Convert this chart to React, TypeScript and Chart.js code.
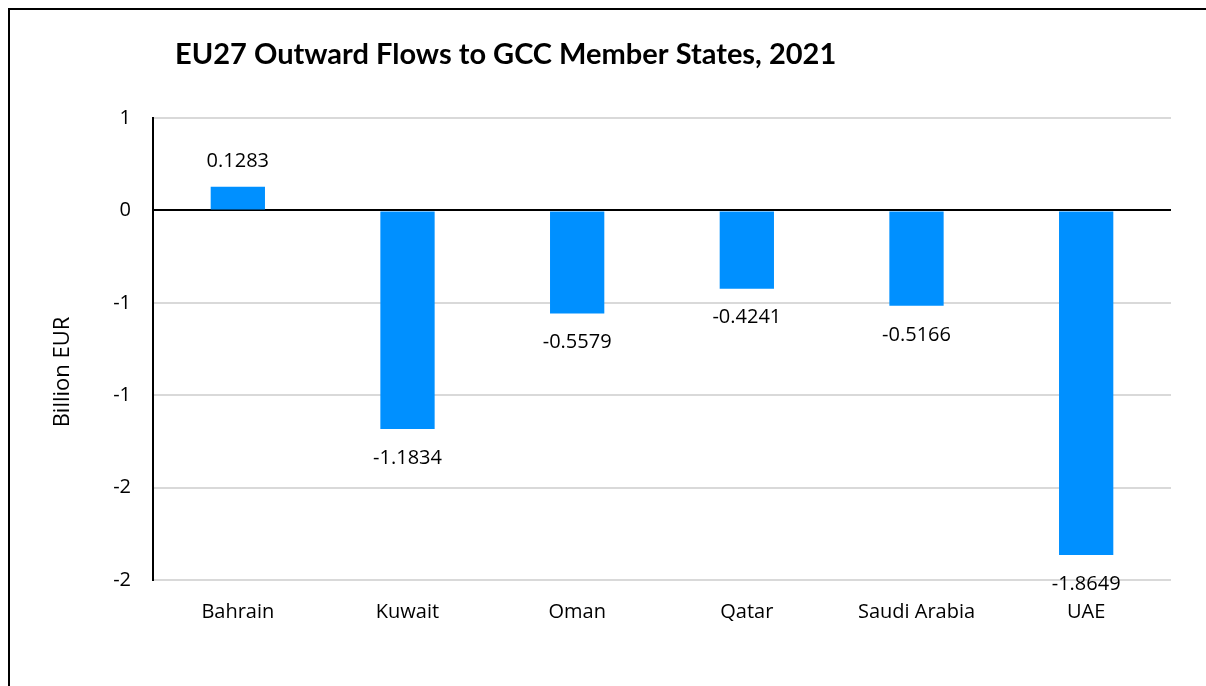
import React, { useEffect, useRef } from "react";
import { Chart, registerables } from "chart.js";

Chart.register(...registerables);

const categories = ["Bahrain", "Kuwait", "Oman", "Qatar", "Saudi Arabia", "UAE"];
const values = [0.1283, -1.1834, -0.5579, -0.4241, -0.5166, -1.8649];
const valueLabels = ["0.1283", "-1.1834", "-0.5579", "-0.4241", "-0.5166", "-1.8649"];
const chartTitle = "EU27 Outward Flows to GCC Member States, 2021";
const yAxisTitle = "Billion EUR";
const yMin = -2;
const yMax = 0.5;
const yStep = 0.5;

const FONT = "'Open Sans', Lato, sans-serif";
const TITLE_FONT = "Lato, 'Open Sans', sans-serif";
const BAR_COLOR = "#0090FF";

const overlayPlugin = {
  id: "overlayText",
  afterDatasetsDraw(chart: any) {
    const { ctx, chartArea } = chart;
    const meta = chart.getDatasetMeta(0);
    ctx.save();
    ctx.fillStyle = "#000";
    ctx.font = `20px ${FONT}`;
    ctx.textAlign = "center";
    ctx.textBaseline = "middle";
    meta.data.forEach((bar: any, i: number) => {
      const v = values[i];
      const y = v >= 0 ? bar.y - 25 : bar.y + 29;
      ctx.fillText(valueLabels[i], bar.x, y);
    });
    // chart title
    ctx.font = `bold 29px ${TITLE_FONT}`;
    ctx.textAlign = "left";
    ctx.fillText(chartTitle, chartArea.left + 22, chartArea.top - 63);
    // y axis title
    ctx.font = `22px ${FONT}`;
    ctx.translate(chartArea.left - 90, chartArea.top + 254);
    ctx.rotate(-Math.PI / 2);
    ctx.textAlign = "center";
    ctx.fillText(yAxisTitle, 0, 0);
    ctx.restore();
  },
};

export default function App() {
  const canvasRef = useRef<HTMLCanvasElement | null>(null);

  useEffect(() => {
    if (!canvasRef.current) return;
    const chart = new Chart(canvasRef.current, {
      type: "bar",
      data: {
        labels: categories,
        datasets: [
          {
            data: values,
            backgroundColor: BAR_COLOR,
            borderWidth: 0,
            categoryPercentage: 1,
            barPercentage: 0.32,
          },
        ],
      },
      options: {
        animation: false,
        responsive: false,
        maintainAspectRatio: false,
        layout: { padding: { top: 108, right: 35, bottom: 0, left: 0 } },
        plugins: {
          legend: { display: false },
          title: { display: false },
          tooltip: { enabled: false },
        },
        scales: {
          x: {
            grid: { display: false, drawTicks: false },
            border: { display: false },
            ticks: {
              color: "#000",
              font: { family: FONT, size: 20 },
              padding: 20,
              maxRotation: 0,
            },
            afterFit(scale: any) {
              scale.height = 106;
            },
          },
          y: {
            min: yMin,
            max: yMax,
            grid: {
              color: (c: any) => (c.tick && c.tick.value === 0 ? "#000" : "#d9d9d9"),
              lineWidth: 2,
              drawTicks: false,
            },
            border: { display: true, color: "#000", width: 2 },
            ticks: {
              stepSize: yStep,
              color: "#000",
              font: { family: FONT, size: 20 },
              padding: 22,
              callback: (v: any) => {
                const n = Number(v);
                const r = Math.sign(n) * Math.round(Math.abs(n));
                return r === 0 ? "0" : String(r);
              },
            },
            afterFit(scale: any) {
              scale.width = 143;
            },
          },
        },
      },
      plugins: [overlayPlugin],
    });
    return () => chart.destroy();
  }, []);

  return (
    <div
      style={{
        position: "fixed",
        left: 8,
        top: 8,
        right: 0,
        bottom: 0,
        overflow: "hidden",
        background: "#fff",
      }}
    >
      <div
        style={{
          width: 1240,
          height: 720,
          border: "2px solid #000",
          boxSizing: "border-box",
          background: "#fff",
        }}
      >
        <canvas ref={canvasRef} width={1196} height={676} style={{ display: "block" }} />
      </div>
    </div>
  );
}
